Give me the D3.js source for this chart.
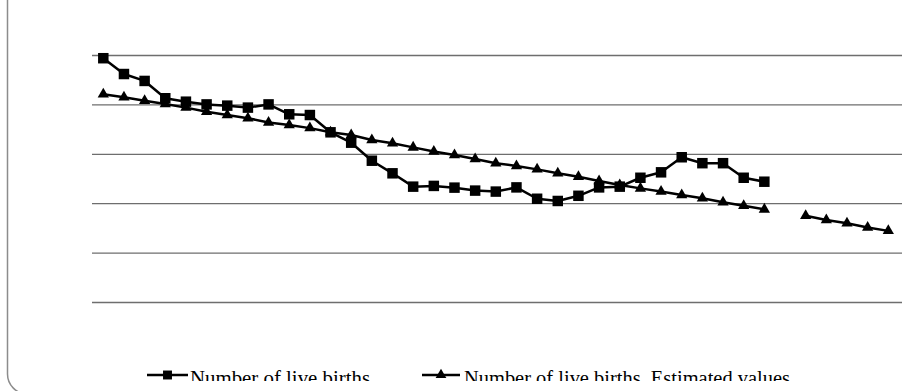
<!DOCTYPE html>
<html>
<head>
<meta charset="utf-8">
<script src="https://cdn.jsdelivr.net/npm/d3@7"></script>
<style>
body{margin:0;background:#fff;overflow:hidden;}
svg{display:block;}
.legend-text{font-family:"Liberation Serif","Times New Roman",serif;font-size:20px;fill:#000;}
</style>
</head>
<body>
<div class="chart-wrapper"></div>
<script>

// x categories have no visible labels in the source, just 39 evenly spaced periods
const periods = d3.range(1, 40)

const liveBirths = [
98.7, 92.3, 89.5, 82.5, 81.1, 80.0, 79.5, 78.7, 80.0, 76.0,
75.7, 68.7, 64.5, 57.2, 52.1, 46.7, 47.0, 46.3, 45.1, 44.7,
46.4, 41.8, 40.9, 43.0, 46.4, 46.7, 50.3, 52.5, 58.6, 56.2,
56.2, 50.3, 48.7, null, null, null, null, null, null
]

const estimated = [
84.1, 82.9, 81.5, 80.2, 78.7, 77.0, 75.7, 74.4, 72.7, 71.7,
70.4, 68.7, 67.6, 65.6, 64.3, 62.6, 60.9, 59.5, 57.9, 56.2,
55.1, 53.7, 52.1, 50.7, 49.0, 47.4, 46.0, 44.7, 43.3, 42.0,
40.4, 39.0, 37.5, null, 34.9, 33.2, 31.9, 30.2, 28.8
]

const gridTicks = [0, 20, 40, 60, 80, 100]

const seriesNames = ['Number of live births', 'Number of live births  Estimated values']

const width = 913
const height = 391

const plot = {left:92, right:902, top:55, bottom:302}

let svg = d3.select('.chart-wrapper')
.append('svg')
.attr('width', width)
.attr('height', height)

// rounded chart frame, only the left side and bottom corners show
const fx0 = 7.5, fx1 = 925, fy1 = 394, fr = 20

svg.append('path')
.attr('d', `M${fx0},-10 V${fy1 - fr} A${fr},${fr} 0 0 0 ${fx0 + fr},${fy1} H${fx1 - fr} A${fr},${fr} 0 0 0 ${fx1},${fy1 - fr} V-10`)
.style('fill', 'none')
.style('stroke', '#8c8c8c')
.style('stroke-width', 1.5)

let xScale = d3.scalePoint()
.domain(periods)
.range([103.3, 888.3])

let yScale = d3.scaleLinear()
.domain([0, 100])
.range([plot.bottom, plot.top])

const yAxis = svg.append('g')
.attr('transform', `translate(${plot.left},0)`)
.call(
	d3.axisLeft(yScale)
	.tickValues(gridTicks)
	.tickSize(-(plot.right - plot.left))
	.tickFormat('')
)

yAxis.select('.domain').remove()

yAxis.selectAll('.tick line')
.style('stroke', '#6e6e6e')
.style('stroke-width', 1.3)

const makeSeries = (values, symbol, size) => {

	let pts = periods.map((p, i) => ({p:p, v:values[i]}))

	let line = d3.line()
	.defined(d => d.v != null)
	.x(d => xScale(d.p))
	.y(d => yScale(d.v))

	svg.append('path')
	.datum(pts)
	.attr('d', line)
	.style('fill', 'none')
	.style('stroke', '#000')
	.style('stroke-width', 2.5)
	.style('stroke-linejoin', 'round')

	svg.append('g')
	.selectAll('path')
	.data(pts.filter(d => d.v != null))
	.enter()
	.append('path')
	.attr('transform', d => `translate(${xScale(d.p)},${yScale(d.v)})`)
	.attr('d', d3.symbol().type(symbol).size(size))
	.style('fill', '#000')
}

makeSeries(liveBirths, d3.symbolSquare, 110)
makeSeries(estimated, d3.symbolTriangle, 55)

// legend, clipped at the bottom as in the source image
svg.append('clipPath')
.attr('id', 'legend-clip')
.append('rect')
.attr('x', 0)
.attr('y', 0)
.attr('width', width)
.attr('height', 381)

let legend = svg.append('g')
.attr('clip-path', 'url(#legend-clip)')

const legendItems = [
	{name:seriesNames[0], x1:147, x2:188, tx:190, tw:180, symbol:d3.symbolSquare, size:80},
	{name:seriesNames[1], x1:422, x2:460, tx:464, tw:326, symbol:d3.symbolTriangle, size:50}
]

legendItems.map(l => {

	legend.append('line')
	.attr('x1', l.x1)
	.attr('x2', l.x2)
	.attr('y1', 375)
	.attr('y2', 375)
	.style('stroke', '#000')
	.style('stroke-width', 2.5)

	legend.append('path')
	.attr('transform', `translate(${(l.x1 + l.x2) / 2},375)`)
	.attr('d', d3.symbol().type(l.symbol).size(l.size))
	.style('fill', '#000')

	legend.append('text')
	.attr('class', 'legend-text')
	.attr('x', l.tx)
	.attr('y', 385)
	.attr('textLength', l.tw)
	.attr('lengthAdjust', 'spacingAndGlyphs')
	.style('white-space', 'pre')
	.text(l.name)
})

</script>
</body>
</html>
